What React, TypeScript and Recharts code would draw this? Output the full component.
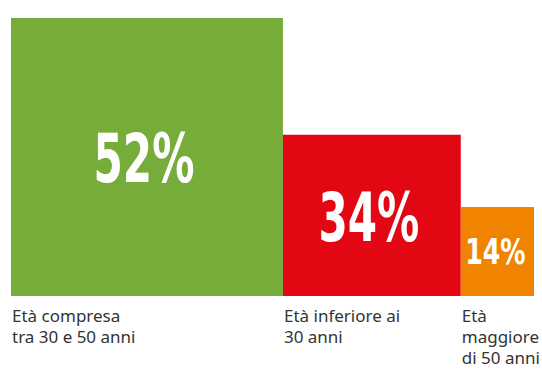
import { ComposedChart, XAxis, YAxis, ReferenceArea, Line } from 'recharts'

// share of respondents per age band (also the width of each block)
const shares = [52, 34, 14]
// block heights, relative to the tallest one
const heights = [100, 58, 32]
const pctLabels = ['52%', '34%', '14%']
const bandLabels = [
  ['Età compresa', 'tra 30 e 50 anni'],
  ['Età inferiore ai', '30 anni'],
  ['Età', 'maggiore', 'di 50 anni'],
]
const colors = ['#76ad3a', '#e30613', '#f08300']

const starts = shares.map((_, i) => shares.slice(0, i).reduce((a, b) => a + b, 0))
const data = shares.map((s, i) => ({ x: starts[i] + s / 2, h: heights[i] }))

const BIG_FONT = "'Liberation Sans Narrow', 'DejaVu Sans Condensed', sans-serif"
const SMALL_FONT = "'Noto Sans', 'Open Sans', sans-serif"

type LabelProps = {
  viewBox?: { x: number; y: number; width: number; height: number }
  pct: string
  lines: string[]
  big: boolean
}

const BlockLabel = ({ viewBox, pct, lines, big }: LabelProps) => {
  if (!viewBox) return null
  const { x, y, width, height } = viewBox
  const fontSize = big ? 67 : 36
  const cx = x + width / 2 - (big ? 3 : 2)
  const baseline = y + height / 2 + fontSize * 0.36 + (big ? 1 : 0)
  const bottom = y + height
  return (
    <g>
      <text
        x={0}
        y={0}
        transform={`translate(${cx},${baseline}) scale(${big ? 0.7 : 0.78},1)`}
        textAnchor="middle"
        fill="#fff"
        fontFamily={BIG_FONT}
        fontWeight={700}
        fontSize={fontSize}
      >
        {pct}
      </text>
      {lines.map((line, i) => (
        <text
          key={line}
          x={x + 1}
          y={bottom + 26 + i * 21}
          fill="#333"
          fontFamily={SMALL_FONT}
          fontSize={17}
        >
          {line}
        </text>
      ))}
    </g>
  )
}

export default function App() {
  return (
    <div style={{ width: 542, height: 369, background: '#fff', overflow: 'hidden' }}>
      <style>{'body{margin:0}'}</style>
      <ComposedChart
        width={542}
        height={369}
        data={data}
        margin={{ top: 18, right: 8, bottom: 73, left: 11 }}
      >
        <XAxis type="number" dataKey="x" domain={[0, 100]} hide />
        <YAxis type="number" domain={[0, 100]} hide />
        {shares.map((s, i) => (
          <ReferenceArea
            key={i}
            x1={starts[i]}
            x2={starts[i] + s}
            y1={0}
            y2={heights[i]}
            fill={colors[i]}
            fillOpacity={1}
            stroke="none"
            label={<BlockLabel pct={pctLabels[i]} lines={bandLabels[i]} big={i < 2} />}
          />
        ))}
        <Line dataKey="h" stroke="none" dot={false} activeDot={false} isAnimationActive={false} />
      </ComposedChart>
    </div>
  )
}
